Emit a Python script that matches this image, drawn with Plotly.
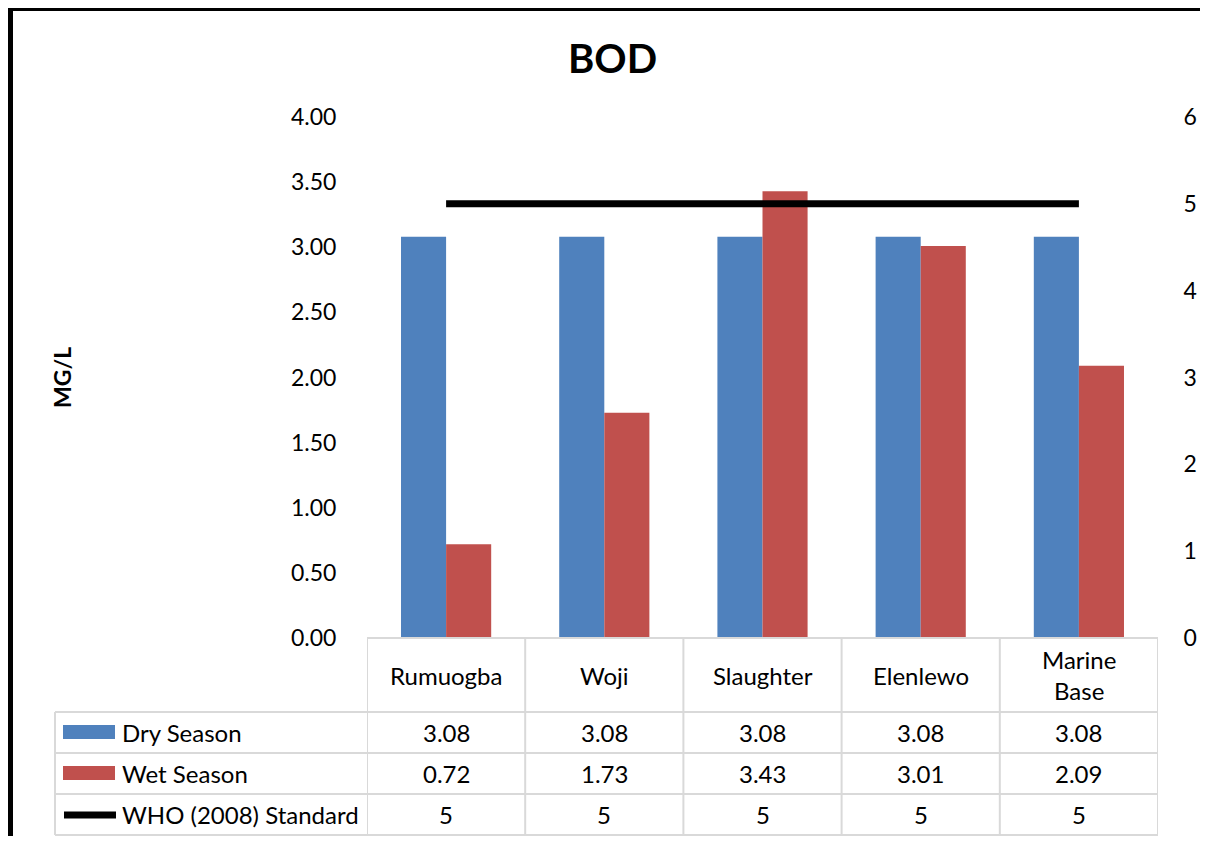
import plotly.graph_objects as go

categories = ["Rumuogba", "Woji", "Slaughter", "Elenlewo", "Marine Base"]
cat_labels = ["Rumuogba", "Woji", "Slaughter", "Elenlewo", "Marine<br>Base"]
dry = [3.08, 3.08, 3.08, 3.08, 3.08]
wet = [0.72, 1.73, 3.43, 3.01, 2.09]
who = [5, 5, 5, 5, 5]
left_ticks = [0, 0.5, 1.0, 1.5, 2.0, 2.5, 3.0, 3.5, 4.0]
right_ticks = [0, 1, 2, 3, 4, 5, 6]

# page has an 8px body margin; the figure is sized to fit the window exactly
OFF = 8
W, H = 1208 - 2 * OFF, 844 - 2 * OFF
FONT = "Lato"
FS = 24
BLUE, RED = "#4F81BD", "#C0504D"
GRID = "#D9D9D9"

def px(x):
    return (x - OFF) / W

def py(y):
    return 1 - (y - OFF) / H

x0, x1 = 367, 1158
ytop, ybot = 117, 638
rows = [712, 753, 794, 835]

fig = go.Figure()
xs = list(range(len(categories)))
fig.add_trace(go.Bar(x=xs, y=dry, name="Dry Season", marker=dict(color=BLUE, line=dict(width=0))))
fig.add_trace(go.Bar(x=xs, y=wet, name="Wet Season", marker=dict(color=RED, line=dict(width=0))))
fig.add_trace(go.Scatter(x=xs, y=who, name="WHO (2008) Standard", mode="lines",
                         line=dict(color="black", width=7), yaxis="y2"))

fig.update_layout(
    width=W, height=H, margin=dict(l=0, r=0, t=0, b=0, pad=0, autoexpand=False),
    paper_bgcolor="white", plot_bgcolor="white", showlegend=False,
    barmode="group", bargap=0.43, bargroupgap=0,
    font=dict(family=FONT, size=FS, color="black"),
    xaxis=dict(domain=[px(x0), px(x1)], range=[-0.5, 4.5], showticklabels=False,
               showgrid=False, zeroline=False, showline=False, ticks="", automargin=False),
    yaxis=dict(domain=[py(ybot), py(ytop)], range=[0, 4], tickvals=left_ticks,
               tickformat=".2f", showgrid=False, zeroline=False, showline=False,
               ticks="outside", ticklen=25, tickcolor="rgba(0,0,0,0)", automargin=False,
               tickfont=dict(family=FONT, size=23)),
    yaxis2=dict(overlaying="y", side="right", range=[0, 6], tickvals=right_ticks,
                showgrid=False, zeroline=False, showline=False, automargin=False,
                ticks="outside", ticklen=20, tickcolor="rgba(0,0,0,0)",
                tickfont=dict(family=FONT, size=23)),
)

shapes = []
# outer frame (top and left edges visible)
shapes.append(dict(type="line", xref="paper", yref="paper", x0=px(8), x1=px(1210),
                   y0=py(9.5), y1=py(9.5), line=dict(color="black", width=3)))
shapes.append(dict(type="line", xref="paper", yref="paper", x0=px(10.5), x1=px(10.5),
                   y0=py(8), y1=py(850), line=dict(color="black", width=5)))
# table horizontal lines
shapes.append(dict(type="line", xref="paper", yref="paper", x0=px(x0), x1=px(x1),
                   y0=py(ybot), y1=py(ybot), line=dict(color=GRID, width=2)))
for r in rows:
    shapes.append(dict(type="line", xref="paper", yref="paper", x0=px(55), x1=px(x1),
                       y0=py(r), y1=py(r), line=dict(color=GRID, width=2)))
# vertical lines
shapes.append(dict(type="line", xref="paper", yref="paper", x0=px(55), x1=px(55),
                   y0=py(rows[0]), y1=py(rows[-1]), line=dict(color=GRID, width=2)))
for i in range(len(categories) + 1):
    shapes.append(dict(type="line", xref="x", yref="paper", x0=i - 0.5, x1=i - 0.5,
                       y0=py(ybot), y1=py(rows[-1]), line=dict(color=GRID, width=2)))
# legend keys
shapes.append(dict(type="rect", xref="paper", yref="paper", x0=px(63), x1=px(115),
                   y0=py(739), y1=py(725), fillcolor=BLUE, line=dict(width=0)))
shapes.append(dict(type="rect", xref="paper", yref="paper", x0=px(63), x1=px(115),
                   y0=py(780), y1=py(766), fillcolor=RED, line=dict(width=0)))
shapes.append(dict(type="line", xref="paper", yref="paper", x0=px(64), x1=px(116),
                   y0=py(815), y1=py(815), line=dict(color="black", width=7)))
fig.update_layout(shapes=shapes)

ann = []
def txt(text, x, y, xref="paper", xanchor="center", size=FS, angle=0):
    ann.append(dict(text=text, x=x, y=y, xref=xref, yref="paper", xanchor=xanchor,
                    yanchor="middle", showarrow=False, textangle=angle,
                    font=dict(family=FONT, size=size)))

txt("<b>BOD</b>", px(612), py(58), size=40)
txt("<b>MG/L</b>", px(62), py(378), size=23, angle=-90)
for i, lab in enumerate(cat_labels):
    txt(lab, i, py(675), xref="x")
series = [("Dry Season", dry, "{:.2f}"), ("Wet Season", wet, "{:.2f}"),
          ("WHO (2008) Standard", who, "{}")]
for r, (name, vals, fmt) in enumerate(series):
    yc = (rows[r] + rows[r + 1]) / 2
    txt(name, px(120), py(yc), xanchor="left")
    for i, v in enumerate(vals):
        txt(fmt.format(v), i, py(yc), xref="x")
fig.update_layout(annotations=ann)

fig.write_html("out.html")
